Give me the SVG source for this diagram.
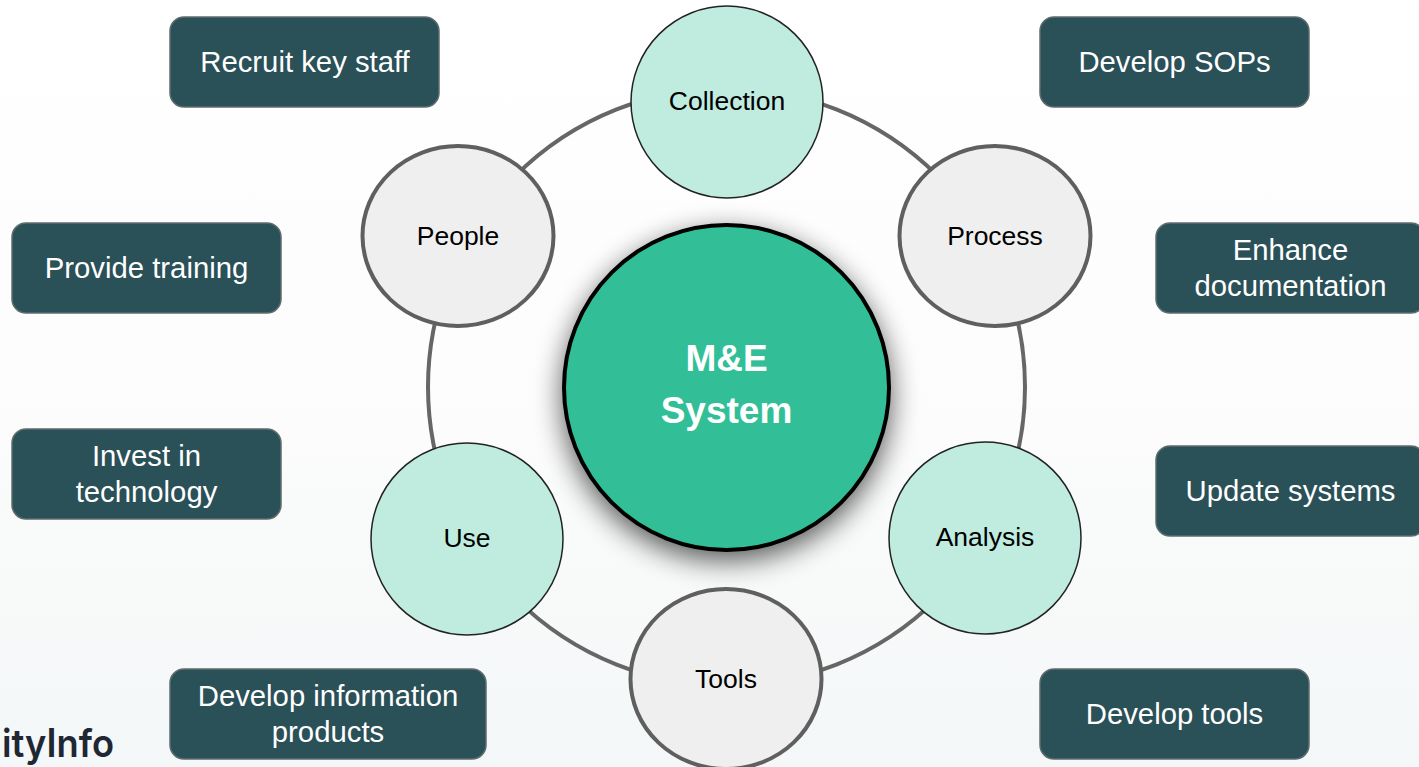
<svg xmlns="http://www.w3.org/2000/svg" width="1419" height="767" viewBox="0 0 1419 767">
<defs>
<linearGradient id="bg" x1="0" y1="0" x2="0" y2="1"><stop offset="0" stop-color="#ffffff"/><stop offset="0.55" stop-color="#fbfcfb"/><stop offset="1" stop-color="#f4f7f8"/></linearGradient>
<filter id="sh" x="-30%" y="-30%" width="160%" height="160%"><feGaussianBlur in="SourceAlpha" stdDeviation="14"/><feOffset dx="0" dy="9"/><feComponentTransfer><feFuncA type="linear" slope="0.65"/></feComponentTransfer><feMerge><feMergeNode/><feMergeNode in="SourceGraphic"/></feMerge></filter>
</defs>
<style>
text{font-family:"Liberation Sans",Arial,sans-serif;text-anchor:middle}
.b rect{fill:#2a5058;stroke:#5f6b6d;stroke-width:1.5}
.b text{fill:#fff;font-size:29.3px}
.c text{fill:#000;font-size:26.500px}
.g ellipse{fill:#efefef;stroke:#5f5f5f;stroke-width:4}
.m circle{fill:#bfecdf;stroke:#222;stroke-width:1.5}
.w{fill:none;stroke:#666;stroke-width:4}
</style>
<rect width="1419" height="767" fill="url(#bg)"/>
<g id="connectors"><circle class="w" cx="726.500" cy="387" r="298.500"/></g>
<g id="hub" filter="url(#sh)"><circle cx="726.500" cy="387.500" r="162.500" fill="#31bf98" stroke="#000" stroke-width="4"/></g>
<g id="hub-label"><text x="726.500" y="371" fill="#fff" font-size="37" font-weight="700">M&amp;E</text><text x="726.500" y="423" fill="#fff" font-size="37" font-weight="700">System</text></g>
<g id="collection" class="c m"><circle cx="727" cy="102" r="96"/><text x="727" y="110">Collection</text></g>
<g id="process" class="c g"><ellipse cx="995" cy="236" rx="95.500" ry="90"/><text x="995" y="245">Process</text></g>
<g id="analysis" class="c m"><circle cx="985" cy="538" r="96"/><text x="985" y="546">Analysis</text></g>
<g id="tools" class="c g"><ellipse cx="726" cy="679" rx="95.500" ry="90"/><text x="726" y="688">Tools</text></g>
<g id="use" class="c m"><circle cx="467" cy="539" r="96"/><text x="467" y="547">Use</text></g>
<g id="people" class="c g"><ellipse cx="458" cy="236" rx="95.500" ry="90"/><text x="458" y="245">People</text></g>
<g id="recruit" class="b"><rect x="170" y="17" width="269" height="90" rx="14"/><text x="305" y="72">Recruit key staff</text></g>
<g id="sops" class="b"><rect x="1040" y="17" width="269" height="90" rx="14"/><text x="1174.500" y="72">Develop SOPs</text></g>
<g id="training" class="b"><rect x="12" y="223" width="269" height="90" rx="14"/><text x="146.500" y="278">Provide training</text></g>
<g id="documentation" class="b"><rect x="1156" y="223" width="269" height="90" rx="14"/><text x="1290.500" y="260">Enhance</text><text x="1290.500" y="296">documentation</text></g>
<g id="technology" class="b"><rect x="12" y="429" width="269" height="90" rx="14"/><text x="146.500" y="466">Invest in</text><text x="146.500" y="502">technology</text></g>
<g id="systems" class="b"><rect x="1156" y="446" width="269" height="90" rx="14"/><text x="1290.500" y="501">Update systems</text></g>
<g id="products" class="b"><rect x="170" y="669" width="316" height="90" rx="14"/><text x="328" y="706">Develop information</text><text x="328" y="742">products</text></g>
<g id="devtools" class="b"><rect x="1040" y="669" width="269" height="90" rx="14"/><text x="1174.500" y="724">Develop tools</text></g>
<text x="2" y="757" style="text-anchor:start;font-family:Inter,sans-serif;font-weight:600" font-size="39" textLength="112" lengthAdjust="spacingAndGlyphs" fill="#1f2733">ityInfo</text>
</svg>
